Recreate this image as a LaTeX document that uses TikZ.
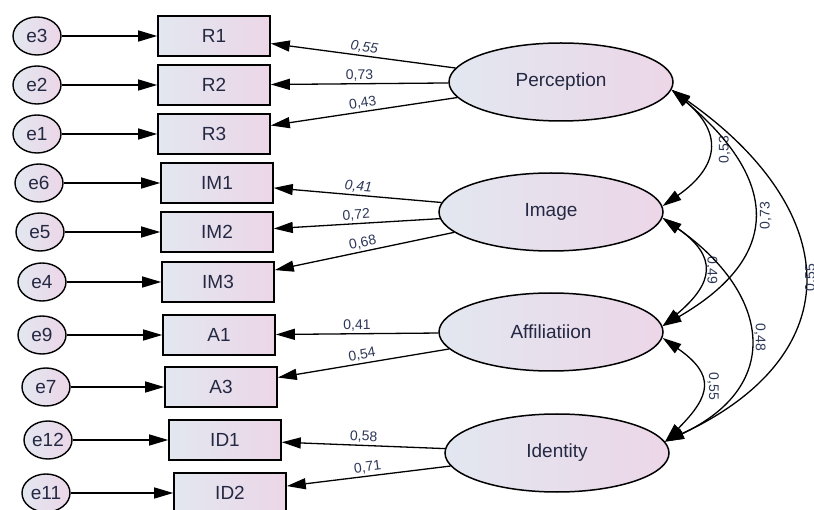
\documentclass[tikz,border=0pt]{standalone}
\usepackage{fontspec}
\setmainfont{Liberation Sans}
\usetikzlibrary{positioning, arrows.meta, shapes.geometric}

\definecolor{textnavy}{RGB}{36,40,66}
\definecolor{coefblue}{RGB}{45,55,88}
\definecolor{shadeleft}{RGB}{226,231,240}
\definecolor{shaderight}{RGB}{236,214,231}

\tikzstyle{errorvar} = [ellipse, draw=black, line width=1.4pt, minimum width=48pt, minimum height=38pt, inner sep=0pt, left color=shadeleft, right color=shaderight, text=textnavy, font=\fontsize{19}{22}\selectfont]
\tikzstyle{observed} = [rectangle, draw=black, line width=1.6pt, minimum width=112pt, minimum height=40pt, inner sep=0pt, left color=shadeleft, right color=shaderight, text=textnavy, font=\fontsize{19}{22}\selectfont]
\tikzstyle{latent} = [ellipse, draw=black, line width=1.5pt, minimum width=224pt, minimum height=78pt, inner sep=0pt, left color=shadeleft, right color=shaderight, text=textnavy, font=\fontsize{19}{22}\selectfont]
\tikzstyle{arrow} = [line width=1.3pt,->,>={Triangle[length=19pt,width=11pt]}]
\tikzstyle{loading} = [line width=1.3pt,<-,>={Triangle[length=19pt,width=11pt]}]
\tikzstyle{cov} = [line width=1.3pt,<->,>={Triangle[length=19pt,width=11pt]}]
\tikzstyle{coef} = [text=coefblue, font=\fontsize{14}{16}\selectfont, inner sep=2pt]

\begin{document}
\begin{tikzpicture}[x=1pt, y=1pt]
\useasboundingbox (0,0) rectangle (814,-510);

% error terms
\node (e3) [errorvar] at (37,-36) {e3};
\node (e2) [errorvar] at (37,-85) {e2};
\node (e1) [errorvar] at (37,-134) {e1};
\node (e6) [errorvar] at (39,-183) {e6};
\node (e5) [errorvar] at (40,-232) {e5};
\node (e4) [errorvar] at (42,-282) {e4};
\node (e9) [errorvar] at (42,-335) {e9};
\node (e7) [errorvar] at (46,-387) {e7};
\node (e12) [errorvar] at (48,-440) {e12};
\node (e11) [errorvar] at (46,-493) {e11};

% indicators
\node (r1) [observed] at (214,-36) {R1};
\node (r2) [observed] at (214,-85) {R2};
\node (r3) [observed] at (214,-134) {R3};
\node (im1) [observed] at (217,-183) {IM1};
\node (im2) [observed] at (217,-232) {IM2};
\node (im3) [observed] at (218,-282) {IM3};
\node (a1) [observed] at (219,-335) {A1};
\node (a3) [observed] at (221,-387) {A3};
\node (id1) [observed] at (225,-440) {ID1};
\node (id2) [observed] at (230,-493) {ID2};

% factors
\node (perc) [latent] at (561,-82) {Perception};
\node (img) [latent] at (551,-212) {Image};
\node (aff) [latent] at (551,-332) {Affiliatiion};
\node (ident) [latent] at (557,-453) {Identity};

\draw [arrow] (e3) -- (r1);
\draw [arrow] (e2) -- (r2);
\draw [arrow] (e1) -- (r3);
\draw [arrow] (e6) -- (im1);
\draw [arrow] (e5) -- (im2);
\draw [arrow] (e4) -- (im3);
\draw [arrow] (e9) -- (a1);
\draw [arrow] (e7) -- (a3);
\draw [arrow] (e12) -- (id1);
\draw [arrow] (e11) -- (id2);

\draw [loading] (r1) -- node [coef, sloped, above] {\itshape 0,55} (perc);
\draw [loading] (r2) -- node [coef, sloped, above] {0,73} (perc);
\draw [loading] (r3) -- node [coef, sloped, above] {0,43} (perc);
\draw [loading] (im1) -- node [coef, sloped, above] {\itshape 0,41} (img);
\draw [loading] (im2) -- node [coef, sloped, above] {0,72} (img);
\draw [loading] (im3) -- node [coef, sloped, above] {0,68} (img);
\draw [loading] (a1) -- node [coef, sloped, above] {0,41} (aff);
\draw [loading] (a3) -- node [coef, sloped, above] {0,54} (aff);
\draw [loading] (id1) -- node [coef, sloped, above] {0,58} (ident);
\draw [loading] (id2) -- node [coef, sloped, above] {0,71} (ident);

% correlations
\draw [cov] (perc.-4) to [out=-40, in=35, looseness=1.5] node [coef, pos=0.5, xshift=17pt, rotate=90] {0,53} (img.3);
\draw [cov] (perc.-4) to [out=-40, in=30, looseness=1.51] node [coef, pos=0.5, xshift=13pt, rotate=90] {0,73} (aff.3);
\draw [cov] (perc.-4) to [out=-35, in=25, looseness=1.51] node [coef, pos=0.5, xshift=8pt, rotate=90] {0,55} (ident.6);
\draw [cov] (img.-3) to [out=-35, in=40, looseness=1.6] node [coef, pos=0.5, xshift=9pt, rotate=-90] {0,49} (aff.3);
\draw [cov] (img.-3) to [out=-35, in=25, looseness=1.5] node [coef, pos=0.5, xshift=11pt, rotate=-90] {0,48} (ident.6);
\draw [cov] (aff.-3) to [out=-35, in=45, looseness=1.6] node [coef, pos=0.5, xshift=12pt, rotate=-90] {0,55} (ident.6);
\end{tikzpicture}
\end{document}
